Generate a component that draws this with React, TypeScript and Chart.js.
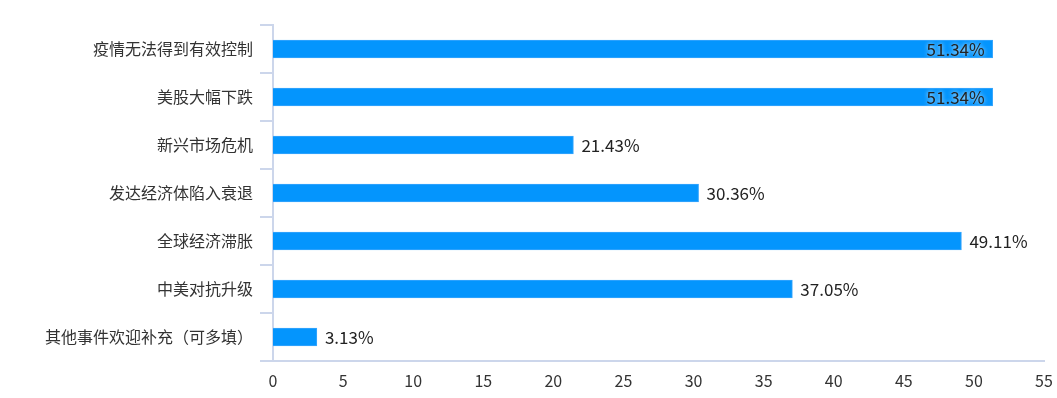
import React, { useEffect, useRef } from "react";
import { Chart, registerables } from "chart.js";

Chart.register(...registerables);

const categories = [
  "疫情无法得到有效控制",
  "美股大幅下跌",
  "新兴市场危机",
  "发达经济体陷入衰退",
  "全球经济滞胀",
  "中美对抗升级",
  "其他事件欢迎补充（可多填）",
];
const values = [51.34, 51.34, 21.43, 30.36, 49.11, 37.05, 3.13];
const xTicks = [0, 5, 10, 15, 20, 25, 30, 35, 40, 45, 50, 55];

const FONT = "'Noto Sans CJK SC', 'Noto Sans', sans-serif";

const valueLabels = {
  id: "valueLabels",
  afterDatasetsDraw(chart: any) {
    const { ctx, chartArea } = chart;
    const meta = chart.getDatasetMeta(0);
    ctx.save();
    ctx.font = `17px ${FONT}`;
    ctx.fillStyle = "#222222";
    ctx.textBaseline = "middle";
    meta.data.forEach((bar: any, i: number) => {
      const text = values[i].toFixed(2) + "%";
      const w = ctx.measureText(text).width;
      let x = bar.x + 8;
      if (x + w > chartArea.right) {
        ctx.textAlign = "right";
        x = bar.x - 8;
        ctx.shadowColor = "rgba(255,255,255,0.9)";
        ctx.shadowBlur = 4;
      } else {
        ctx.textAlign = "left";
        ctx.shadowColor = "rgba(0,0,0,0)";
        ctx.shadowBlur = 0;
      }
      ctx.fillText(text, x, bar.y + 1);
    });
    ctx.restore();
  },
};

export default function App() {
  const ref = useRef<HTMLCanvasElement>(null);
  useEffect(() => {
    document.body.style.margin = "0";
    const chart = new Chart(ref.current!, {
      type: "bar",
      data: {
        labels: categories,
        datasets: [
          {
            data: values,
            backgroundColor: "#0495fd",
            borderColor: "#39a6fd",
            borderWidth: 1,
            borderSkipped: "left",
            barThickness: 18,
          },
        ],
      },
      options: {
        indexAxis: "y",
        animation: false,
        responsive: false,
        layout: { padding: { top: 25, right: 13, left: 0, bottom: 0 } },
        plugins: { legend: { display: false }, tooltip: { enabled: false } },
        scales: {
          x: {
            min: 0,
            max: 55,
            afterBuildTicks: (s: any) => {
              s.ticks = xTicks.map((v) => ({ value: v }));
            },
            grid: { display: false, drawTicks: false },
            border: { display: true, color: "#ccd6eb", width: 2 },
            ticks: {
              padding: 10,
              color: "#333333",
              font: { family: FONT, size: 16 },
            },
            afterFit: (s: any) => {
              s.height = 37;
              s.paddingRight = 0;
              s.paddingLeft = 0;
            },
          },
          y: {
            grid: {
              drawOnChartArea: false,
              drawTicks: true,
              tickLength: 13,
              color: "#ccd6eb",
              lineWidth: 2,
              offset: true,
            },
            border: { display: true, color: "#ccd6eb", width: 2 },
            ticks: {
              padding: 7,
              color: "#333333",
              font: { family: FONT, size: 16 },
            },
            afterFit: (s: any) => {
              s.width = 273;
            },
          },
        },
      },
      plugins: [valueLabels],
    });
    return () => chart.destroy();
  }, []);
  return <canvas ref={ref} width={1057} height={398} style={{ display: "block" }} />;
}
